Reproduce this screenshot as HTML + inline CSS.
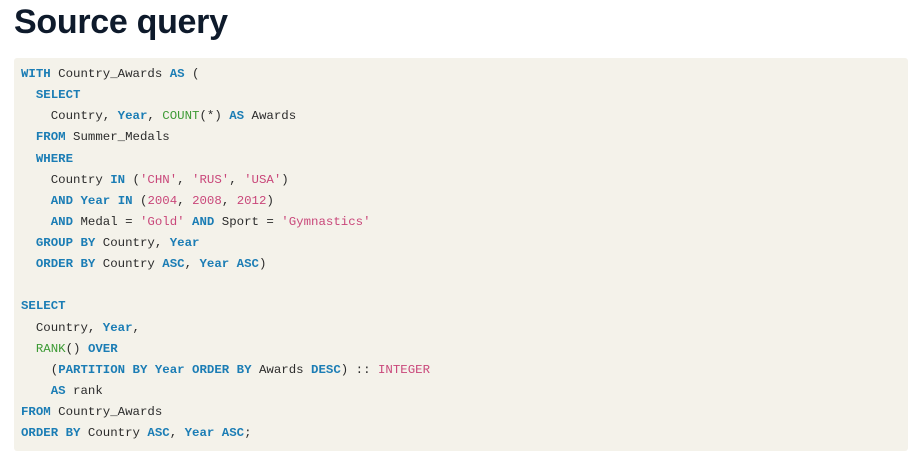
<!DOCTYPE html>
<html><head><style>
body{margin:0;width:918px;height:462px;background:#fff;overflow:hidden;font-family:"Liberation Sans",sans-serif}
h1{position:absolute;left:14px;top:3px;margin:0;font-size:34px;font-weight:bold;color:#0e1a2b;letter-spacing:-0.3px}
.box{position:absolute;left:14px;top:58px;width:894px;height:393px;background:#f4f2ea;border-radius:3px}
pre{position:absolute;left:21px;top:64px;margin:0;font-family:"Liberation Mono",monospace;font-size:12.4px;line-height:21.12px;color:#2b2b2b}
.k{color:#1b7db5;font-weight:bold}.f{color:#3c9a34}.s{color:#c9477a}
</style></head><body>
<h1>Source query</h1>
<div class="box"></div>
<pre><span class="k">WITH</span> Country_Awards <span class="k">AS</span> (
  <span class="k">SELECT</span>
    Country, <span class="k">Year</span>, <span class="f">COUNT</span>(*) <span class="k">AS</span> Awards
  <span class="k">FROM</span> Summer_Medals
  <span class="k">WHERE</span>
    Country <span class="k">IN</span> (<span class="s">'CHN'</span>, <span class="s">'RUS'</span>, <span class="s">'USA'</span>)
    <span class="k">AND</span> <span class="k">Year</span> <span class="k">IN</span> (<span class="s">2004</span>, <span class="s">2008</span>, <span class="s">2012</span>)
    <span class="k">AND</span> Medal = <span class="s">'Gold'</span> <span class="k">AND</span> Sport = <span class="s">'Gymnastics'</span>
  <span class="k">GROUP BY</span> Country, <span class="k">Year</span>
  <span class="k">ORDER BY</span> Country <span class="k">ASC</span>, <span class="k">Year</span> <span class="k">ASC</span>)

<span class="k">SELECT</span>
  Country, <span class="k">Year</span>,
  <span class="f">RANK</span>() <span class="k">OVER</span>
    (<span class="k">PARTITION BY</span> <span class="k">Year</span> <span class="k">ORDER BY</span> Awards <span class="k">DESC</span>) :: <span class="s">INTEGER</span>
    <span class="k">AS</span> rank
<span class="k">FROM</span> Country_Awards
<span class="k">ORDER BY</span> Country <span class="k">ASC</span>, <span class="k">Year</span> <span class="k">ASC</span>;</pre>
</body></html>
